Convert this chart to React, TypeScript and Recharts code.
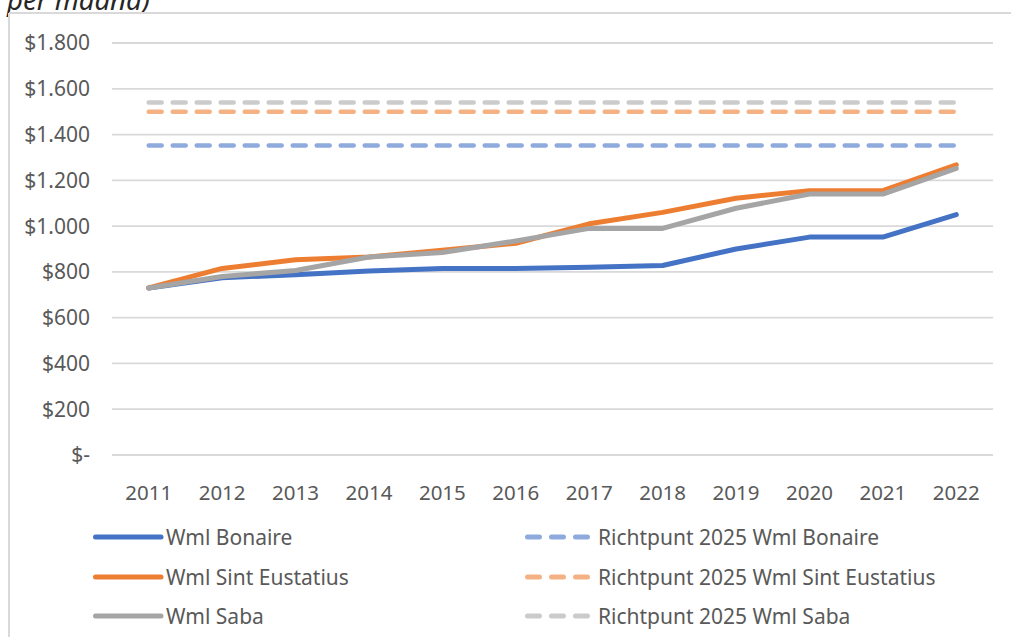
import { CartesianGrid, Line, LineChart, XAxis, YAxis } from "recharts"

const years = ["2011", "2012", "2013", "2014", "2015", "2016", "2017", "2018", "2019", "2020", "2021", "2022"]
const wmlBonaire = [730, 774, 788, 804, 815, 815, 820, 828, 900, 952, 952, 1050]
const wmlSintEustatius = [730, 815, 853, 865, 895, 925, 1010, 1060, 1122, 1155, 1155, 1268]
const wmlSaba = [730, 780, 806, 865, 885, 935, 990, 990, 1078, 1140, 1140, 1252]
const richtpuntBonaire = 1352
const richtpuntSintEustatius = 1500
const richtpuntSaba = 1540
const yTicks = [0, 200, 400, 600, 800, 1000, 1200, 1400, 1600, 1800]

const data = years.map((year, i) => ({
  year,
  bonaire: wmlBonaire[i],
  statia: wmlSintEustatius[i],
  saba: wmlSaba[i],
  rBonaire: richtpuntBonaire,
  rStatia: richtpuntSintEustatius,
  rSaba: richtpuntSaba,
}))

const FONT = "'Noto Sans', 'Open Sans', sans-serif"
const TEXT = "#595959"

const series = [
  { key: "bonaire", name: "Wml Bonaire", color: "#4472C4", dashed: false },
  { key: "statia", name: "Wml Sint Eustatius", color: "#ED7D31", dashed: false },
  { key: "saba", name: "Wml Saba", color: "#A5A5A5", dashed: false },
  { key: "rBonaire", name: "Richtpunt 2025 Wml Bonaire", color: "#8FAADC", dashed: true },
  { key: "rStatia", name: "Richtpunt 2025 Wml Sint Eustatius", color: "#F4B183", dashed: true },
  { key: "rSaba", name: "Richtpunt 2025 Wml Saba", color: "#CBCBCB", dashed: true },
]

const fmt = (v: number) => (v === 0 ? "$-" : "$" + String(v).replace(/\B(?=(\d{3})+(?!\d))/g, "."))

function LegendItem({ s, x, y }: { s: (typeof series)[number]; x: number; y: number }) {
  return (
    <div style={{ position: "absolute", left: x, top: y - 14, height: 28, display: "flex", alignItems: "center" }}>
      <svg width={72} height={10} style={{ display: "block" }}>
        {s.dashed ? (
          <line x1={2.5} y1={5} x2={66} y2={5} stroke={s.color} strokeWidth={5} strokeLinecap="round" strokeDasharray="12 12" />
        ) : (
          <line x1={2.5} y1={5} x2={68} y2={5} stroke={s.color} strokeWidth={5} strokeLinecap="round" />
        )}
      </svg>
      <span style={{ fontFamily: FONT, fontSize: 21, color: TEXT, whiteSpace: "nowrap", marginLeft: 1 }}>{s.name}</span>
    </div>
  )
}

export default function App() {
  const rows = [537, 577, 616]
  return (
    <div style={{ position: "absolute", left: 0, top: 0, width: 1011, height: 637, background: "#fff", overflow: "hidden" }}>
      <svg width={1011} height={637} style={{ position: "absolute", left: 0, top: 0 }}>
        <text x={7} y={10} fontFamily={FONT} fontSize={27.5} fontStyle="italic" fill="#262626">
          per maand)
        </text>
        <line x1={9} y1={13} x2={1011} y2={13} stroke="#d9d9d9" strokeWidth={2} />
        <line x1={9} y1={13} x2={9} y2={637} stroke="#d9d9d9" strokeWidth={2} />
      </svg>
      <div style={{ position: "absolute", left: 0, top: 0 }}>
        <LineChart width={1011} height={637} data={data} margin={{ top: 43, right: 18, left: 0, bottom: 152 }}>
          <CartesianGrid vertical={false} stroke="#d9d9d9" strokeWidth={1.8} />
          <XAxis
            dataKey="year"
            height={30}
            axisLine={false}
            tickLine={false}
            tickSize={0}
            tickMargin={30}
            padding={{ left: 36.7, right: 36.7 }}
            tick={{ fill: TEXT, fontSize: 20.5, fontFamily: FONT }}
            interval={0}
          />
          <YAxis
            width={112}
            domain={[0, 1800]}
            ticks={yTicks}
            axisLine={false}
            tickLine={false}
            tickSize={0}
            tickMargin={22}
            tickFormatter={fmt}
            tick={{ fill: TEXT, fontSize: 21, fontFamily: FONT }}
            interval={0}
          />
          {series.map((s) => (
            <Line
              key={s.key}
              dataKey={s.key}
              name={s.name}
              type="linear"
              stroke={s.color}
              strokeWidth={s.dashed ? 4.5 : 5}
              strokeDasharray={s.dashed ? "13 11" : undefined}
              strokeLinecap="round"
              strokeLinejoin="round"
              dot={false}
              activeDot={false}
              isAnimationActive={false}
            />
          ))}
        </LineChart>
      </div>
      <div style={{ position: "absolute", left: 0, top: 0 }}>
        {series.slice(0, 3).map((s, i) => (
          <LegendItem key={s.key} s={s} x={93} y={rows[i]} />
        ))}
        {series.slice(3).map((s, i) => (
          <LegendItem key={s.key} s={s} x={525} y={rows[i]} />
        ))}
      </div>
    </div>
  )
}
